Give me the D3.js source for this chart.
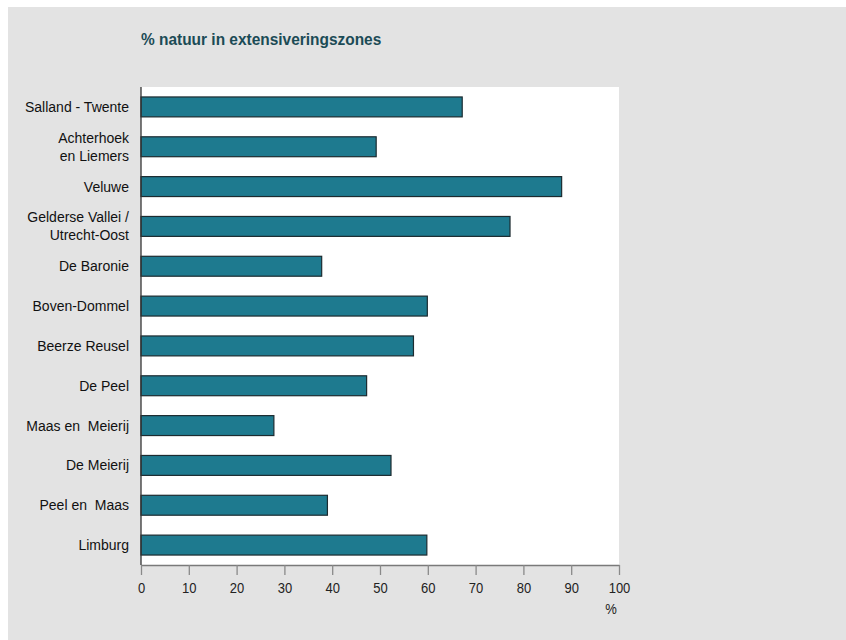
<!DOCTYPE html>
<html>
<head>
<meta charset="utf-8">
<script src="https://cdn.jsdelivr.net/npm/d3@7/dist/d3.min.js"></script>
<style>
  html, body { margin: 0; padding: 0; background: #ffffff; }
  svg { display: block; }
</style>
</head>
<body>
<div id="chart"></div>
<script>
// Regions (line breaks marked with "\n") and share of nature (%) per region
const regions = [
  "Salland - Twente",
  "Achterhoek\nen Liemers",
  "Veluwe",
  "Gelderse Vallei /\nUtrecht-Oost",
  "De Baronie",
  "Boven-Dommel",
  "Beerze Reusel",
  "De Peel",
  "Maas en  Meierij",
  "De Meierij",
  "Peel en  Maas",
  "Limburg"
];
const natuurPct = [67.2, 49.2, 88.0, 77.2, 37.8, 59.9, 57.0, 47.2, 27.8, 52.3, 39.0, 59.8];
const xTicks = [0, 10, 20, 30, 40, 50, 60, 70, 80, 90, 100];
const titleText = "% natuur in extensiveringszones";
const unitText = "%";

const W = 846, H = 640;
const plot = { left: 141, right: 619, top: 87, bottom: 565 };
const sansFont = "'Liberation Sans', Arial, sans-serif";

const svg = d3.select("#chart").append("svg")
  .attr("width", W).attr("height", H);

// grey panel
svg.append("rect")
  .attr("x", 8).attr("y", 7)
  .attr("width", W - 8).attr("height", H - 7)
  .attr("fill", "#e3e3e3");

// white plotting area
svg.append("rect")
  .attr("x", plot.left).attr("y", plot.top)
  .attr("width", plot.right - plot.left).attr("height", plot.bottom - plot.top)
  .attr("fill", "#ffffff");

const x = d3.scaleLinear().domain([0, 100]).range([plot.left, plot.right]);
const y = d3.scaleBand().domain(regions).range([plot.top, plot.bottom]).paddingInner(0.5).paddingOuter(0.25);

// title (slightly condensed)
svg.append("text")
  .attr("transform", "translate(141,45) scale(0.92,1)")
  .attr("font-family", sansFont)
  .attr("font-size", 16.8).attr("font-weight", "bold")
  .attr("fill", "#1b4b56")
  .text(titleText);

// bars
svg.append("g").selectAll("rect")
  .data(regions)
  .join("rect")
  .attr("x", x(0))
  .attr("y", d => y(d))
  .attr("width", (d, i) => x(natuurPct[i]) - x(0))
  .attr("height", y.bandwidth())
  .attr("fill", "#1e7a8f")
  .attr("stroke", "#1c2b30")
  .attr("stroke-width", 1.2);

// category labels
const labels = svg.append("g")
  .attr("font-family", sansFont)
  .attr("font-size", 14)
  .attr("fill", "#111")
  .attr("text-anchor", "end");

regions.forEach(r => {
  const lines = r.split("\n");
  const cy = y(r) + y.bandwidth() / 2;
  const t = labels.append("text")
    .attr("x", 129)
    .attr("y", cy)
    .style("white-space", "pre")
    .attr("xml:space", "preserve");
  lines.forEach((ln, k) => {
    t.append("tspan")
      .attr("x", 129)
      .attr("y", cy + (k - (lines.length - 1) / 2) * 18)
      .attr("dy", "0.36em")
      .text(ln);
  });
});

// x axis
const xAxis = d3.axisBottom(x).tickValues(xTicks).tickSize(10).tickPadding(7).tickSizeOuter(0);
const gx = svg.append("g")
  .attr("transform", `translate(0,${plot.bottom})`)
  .call(xAxis);
gx.select(".domain").attr("stroke", "#7a7a7a").attr("stroke-width", 1.3);
gx.selectAll(".tick line").attr("stroke", "#8a8a8a").attr("stroke-width", 1.3);
// condensed tick numerals
gx.selectAll(".tick text")
  .attr("font-family", sansFont)
  .attr("font-size", 15.5)
  .attr("fill", "#222")
  .attr("transform", "scale(0.84,1)");

// left axis line
svg.append("line")
  .attr("x1", plot.left).attr("x2", plot.left)
  .attr("y1", plot.top).attr("y2", plot.bottom)
  .attr("stroke", "#333").attr("stroke-width", 1.3);

// unit label
svg.append("text")
  .attr("transform", "translate(611,614) scale(0.84,1)")
  .attr("text-anchor", "middle")
  .attr("font-family", sansFont)
  .attr("font-size", 15.5)
  .attr("fill", "#222")
  .text(unitText);
</script>
</body>
</html>
